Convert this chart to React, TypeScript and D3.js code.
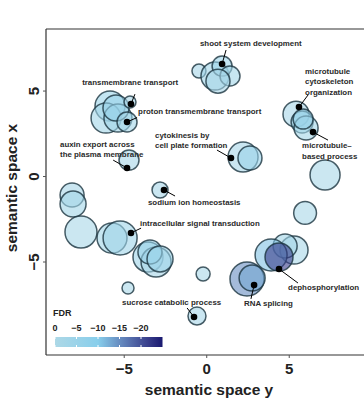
import * as d3 from "d3";

// term circles: semantic coords, log size, log10 FDR
const termX = [-5.86, -6.1, -5.38, -5.5, -4.65, -4.83, -0.47, 0.5, 0.93, 1.41, 0.68, 2.2, 2.62, 5.41, 5.78, 6.02, 5.84, 7.17, 5.96, 5.29, 4.75, 3.9, 4.38, 2.44, 2.75, -0.22, -0.59, -8.16, -8.1, -7.62, -2.83, -5.74, -5.25, -3.56, -3.07, -3.44, -2.83, -4.77, -4.71];
const termY = [4.12, 3.42, 3.42, 4.01, 4.36, 3.19, 6.17, 5.88, 6.46, 5.88, 5.58, 1.14, 1.08, 3.65, 3.19, 2.84, 3.36, 0.09, -2.13, -4.3, -4.06, -4.59, -4.71, -5.99, -5.94, -5.7, -8.16, -1.08, -1.61, -3.25, -0.79, -3.6, -3.6, -4.71, -5.0, -4.42, -4.82, -6.52, 0.96];
const termSize = [3.5, 3.5, 3.25, 3.0, 1.25, 2.25, 1.5, 3.25, 2.25, 2.25, 2.75, 3.5, 2.75, 3.0, 2.5, 2.75, 2.25, 3.5, 2.6, 3.25, 2.75, 3.75, 3.25, 4.0, 3.0, 1.5, 2.0, 2.75, 3.0, 3.75, 1.75, 3.5, 4.0, 3.5, 3.5, 2.75, 3.0, 1.25, 2.25];
const termFDR = [-5, -3, -4, -6, -2, -3, -2, -4, -5, -3, -2, -2, -6, -2, -4, -3, -6, -1, -1, -1, -3, -11, -22, -15, -13, -1, -2, -2, -3, -1, -2, -3, -4, -4, -2, -6, -5, -1, -2];

// labelled terms
const labelNames = [
  ["shoot system development"],
  ["transmembrane transport"],
  ["proton transmembrane transport"],
  ["auxin export across", "the plasma membrane"],
  ["cytokinesis by", "cell plate formation"],
  ["sodium ion homeostasis"],
  ["intracellular signal transduction"],
  ["microtubule", "cytoskeleton", "organization"],
  ["microtubule\u2013", "based process"],
  ["dephosphorylation"],
  ["RNA splicing"],
  ["sucrose catabolic process"],
];
const dotX = [0.93, -4.59, -4.83, -4.83, 1.47, -2.59, -4.59, 5.59, 6.44, 4.38, 2.87, -0.77];
const dotY = [6.58, 4.24, 3.19, 0.5, 1.08, -0.79, -3.3, 4.06, 2.6, -5.41, -6.35, -8.22];
const textX = [-0.41, -7.55, -4.16, -8.89, -3.13, -3.56, -4.04, 5.96, 5.78, 4.93, 2.26, -5.13];
const textY = [7.66, 5.38, 3.68, 1.75, 2.28, -1.67, -2.87, 6.02, 1.64, -6.61, -7.6, -7.54];
const segX = [1.17, -4.35, -4.22, -5.67, 0.62, -1.92, -3.98, 6.14, 7.35, 5.53, 2.68, -1.19];
const segY = [7.4, 4.82, 3.45, 0.96, 1.55, -1.14, -3.02, 4.77, 2.13, -6.23, -7.16, -7.69];

const axisTicks = [-5, 0, 5];
const fdrTicks = [0, -5, -10, -15, -20];
const fdrStops = [0, -10, -25];
const fdrColors = ["#add8e6", "#87ceeb", "#191970"];

const W = 364;
const H = 401;
const FONT = "'Liberation Sans', Arial, sans-serif";

export default function App() {
  const x = d3.scaleLinear().domain([-9.74, 9.53]).range([46, 364]);
  const y = d3.scaleLinear().domain([-10.44, 8.63]).range([355, 29]);
  const r = d3.scaleLinear().domain([1, 4]).range([5, 17]);
  const color = d3
    .scaleLinear<string>()
    .domain(fdrStops)
    .range(fdrColors)
    .interpolate(d3.interpolateLab);
  const legX = d3.scaleLinear().domain([0, -25]).range([55, 162.5]);
  const gradStops = d3.range(0, 26, 1).map((v) => -v);

  const fmt = (v: number) => (v < 0 ? "\u2212" + Math.abs(v) : String(v));

  return (
    <svg
      width={W}
      height={H}
      style={{ position: "absolute", left: 0, top: 0, background: "#fff" }}
      fontFamily={FONT}
    >
      <defs>
        <linearGradient id="fdrGrad" x1="0" x2="1" y1="0" y2="0">
          {gradStops.map((v) => (
            <stop key={v} offset={(legX(v) - legX(0)) / (legX(-25) - legX(0))} stopColor={color(v)} />
          ))}
        </linearGradient>
      </defs>

      {/* circles */}
      <g>
        {termX.map((tx, i) => (
          <circle
            key={i}
            cx={x(tx)}
            cy={y(termY[i])}
            r={r(termSize[i])}
            fill={color(termFDR[i])}
            fillOpacity={0.6}
            stroke="#1b3440"
            strokeOpacity={0.8}
            strokeWidth={1.5}
          />
        ))}
      </g>

      {/* label segments, dots and texts */}
      <g>
        {labelNames.map((lines, i) => (
          <g key={i}>
            <line x1={x(dotX[i])} y1={y(dotY[i])} x2={x(segX[i])} y2={y(segY[i])} stroke="#000" strokeWidth={1} />
            <circle cx={x(dotX[i])} cy={y(dotY[i])} r={3.3} fill="#000" />
            <text x={x(textX[i])} y={y(textY[i])} fontSize={7.9} fontWeight="bold" fill="#2a2a2a">
              {lines.map((l, j) => (
                <tspan key={j} x={x(textX[i])} dy={j === 0 ? 0 : 10.5}>
                  {l}
                </tspan>
              ))}
            </text>
          </g>
        ))}
      </g>

      {/* axes */}
      <line x1={46} y1={29} x2={364} y2={29} stroke="#333" strokeWidth={1.2} />
      <line x1={46} y1={29} x2={46} y2={355} stroke="#333" strokeWidth={1.2} />
      <line x1={46} y1={355} x2={364} y2={355} stroke="#333" strokeWidth={1.2} />
      {axisTicks.map((t) => (
        <g key={"x" + t}>
          <line x1={x(t)} x2={x(t)} y1={355} y2={358} stroke="#555" />
          <text x={x(t)} y={374} textAnchor="middle" fontSize={15} fontWeight="bold" fill="#222">
            {fmt(t)}
          </text>
        </g>
      ))}
      {axisTicks.map((t) => (
        <g key={"y" + t}>
          <line x1={43} x2={46} y1={y(t)} y2={y(t)} stroke="#555" />
          <text
            transform={`translate(39,${y(t)}) rotate(-90)`}
            textAnchor="middle"
            fontSize={15}
            fontWeight="bold"
            fill="#222"
          >
            {fmt(t)}
          </text>
        </g>
      ))}
      <text x={209} y={395} textAnchor="middle" fontSize={15.5} fontWeight="bold" fill="#222">
        semantic space y
      </text>
      <text transform="translate(17,188) rotate(-90)" textAnchor="middle" fontSize={15.5} fontWeight="bold" fill="#222">
        semantic space x
      </text>

      {/* FDR legend */}
      <g>
        <text x={53} y={316} fontSize={9} fontWeight="bold" fill="#222">
          FDR
        </text>
        {fdrTicks.map((t) => (
          <text key={t} x={legX(t)} y={331} textAnchor="middle" fontSize={9} fontWeight="bold" fill="#222">
            {fmt(t)}
          </text>
        ))}
        <rect x={legX(0)} y={337} width={legX(-25) - legX(0)} height={10} fill="url(#fdrGrad)" />
        {fdrTicks.map((t) => (
          <g key={"m" + t}>
            <line x1={legX(t)} x2={legX(t)} y1={337} y2={339} stroke="#fff" />
            <line x1={legX(t)} x2={legX(t)} y1={345} y2={347} stroke="#fff" />
          </g>
        ))}
      </g>
    </svg>
  );
}
